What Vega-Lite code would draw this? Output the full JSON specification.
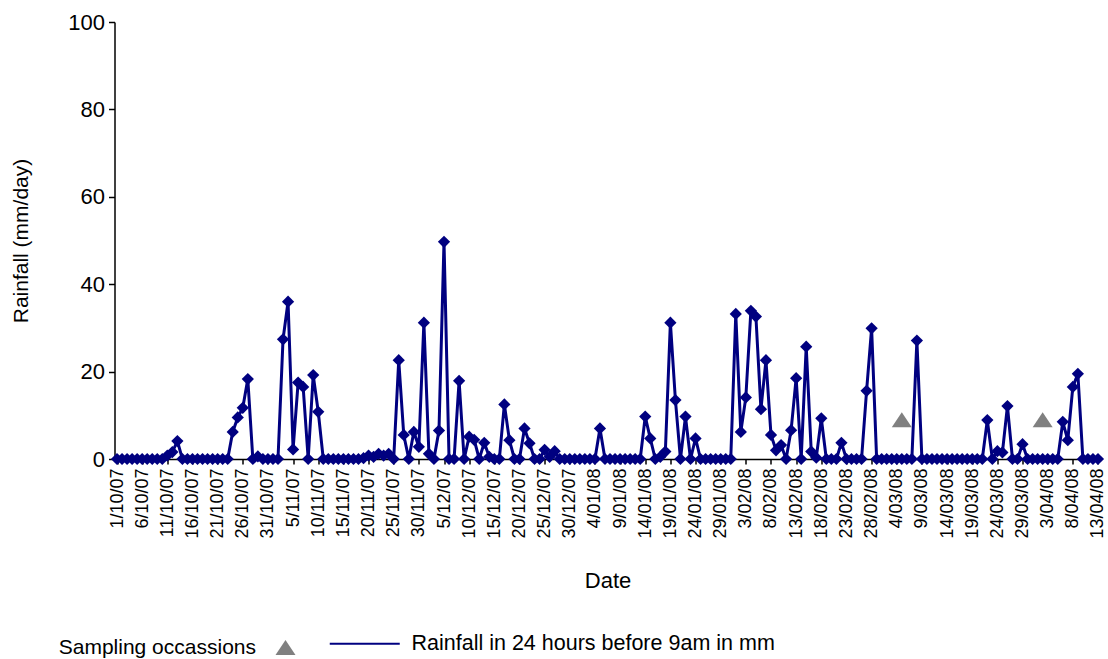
{
  "$schema": "https://vega.github.io/schema/vega-lite/v6.json",
  "width": 986,
  "height": 437,
  "autosize": "none",
  "padding": {"left": 114.5, "top": 22, "right": 7.5, "bottom": 200},
  "background": "white",
  "config": {
    "view": {"stroke": null},
    "font": "Liberation Sans",
    "axis": {
      "grid": false,
      "domainColor": "#000000",
      "domainWidth": 1.5,
      "tickColor": "#000000",
      "tickWidth": 1.5,
      "labelColor": "#000000",
      "titleColor": "#000000",
      "titleFontWeight": "normal",
      "labelFont": "Liberation Sans",
      "titleFont": "Liberation Sans"
    },
    "legend": {"labelFont": "Liberation Sans", "labelColor": "#000000", "labelLimit": 500}
  },
  "data": {
    "values": [
      {"date": "1/10/07", "rain": 0}, {"date": "2/10/07", "rain": 0}, {"date": "3/10/07", "rain": 0}, {"date": "4/10/07", "rain": 0},
      {"date": "5/10/07", "rain": 0}, {"date": "6/10/07", "rain": 0}, {"date": "7/10/07", "rain": 0}, {"date": "8/10/07", "rain": 0},
      {"date": "9/10/07", "rain": 0}, {"date": "10/10/07", "rain": 0}, {"date": "11/10/07", "rain": 0.8}, {"date": "12/10/07", "rain": 1.6},
      {"date": "13/10/07", "rain": 4.1}, {"date": "14/10/07", "rain": 0}, {"date": "15/10/07", "rain": 0}, {"date": "16/10/07", "rain": 0},
      {"date": "17/10/07", "rain": 0}, {"date": "18/10/07", "rain": 0}, {"date": "19/10/07", "rain": 0}, {"date": "20/10/07", "rain": 0},
      {"date": "21/10/07", "rain": 0}, {"date": "22/10/07", "rain": 0}, {"date": "23/10/07", "rain": 0}, {"date": "24/10/07", "rain": 6.2},
      {"date": "25/10/07", "rain": 9.5}, {"date": "26/10/07", "rain": 11.7}, {"date": "27/10/07", "rain": 18.3}, {"date": "28/10/07", "rain": 0},
      {"date": "29/10/07", "rain": 0.6}, {"date": "30/10/07", "rain": 0}, {"date": "31/10/07", "rain": 0},
      {"date": "1/11/07", "rain": 0}, {"date": "2/11/07", "rain": 0}, {"date": "3/11/07", "rain": 27.4}, {"date": "4/11/07", "rain": 36},
      {"date": "5/11/07", "rain": 2.2}, {"date": "6/11/07", "rain": 17.5}, {"date": "7/11/07", "rain": 16.5}, {"date": "8/11/07", "rain": 0},
      {"date": "9/11/07", "rain": 19.2}, {"date": "10/11/07", "rain": 10.8}, {"date": "11/11/07", "rain": 0}, {"date": "12/11/07", "rain": 0},
      {"date": "13/11/07", "rain": 0}, {"date": "14/11/07", "rain": 0}, {"date": "15/11/07", "rain": 0}, {"date": "16/11/07", "rain": 0},
      {"date": "17/11/07", "rain": 0}, {"date": "18/11/07", "rain": 0}, {"date": "19/11/07", "rain": 0.2}, {"date": "20/11/07", "rain": 0.8},
      {"date": "21/11/07", "rain": 0.5}, {"date": "22/11/07", "rain": 1.2}, {"date": "23/11/07", "rain": 0.8}, {"date": "24/11/07", "rain": 1.2},
      {"date": "25/11/07", "rain": 0}, {"date": "26/11/07", "rain": 22.6}, {"date": "27/11/07", "rain": 5.5}, {"date": "28/11/07", "rain": 0},
      {"date": "29/11/07", "rain": 6.2}, {"date": "30/11/07", "rain": 2.8},
      {"date": "1/12/07", "rain": 31.2}, {"date": "2/12/07", "rain": 1.2}, {"date": "3/12/07", "rain": 0}, {"date": "4/12/07", "rain": 6.5},
      {"date": "5/12/07", "rain": 49.7}, {"date": "6/12/07", "rain": 0}, {"date": "7/12/07", "rain": 0}, {"date": "8/12/07", "rain": 17.9},
      {"date": "9/12/07", "rain": 0}, {"date": "10/12/07", "rain": 5.1}, {"date": "11/12/07", "rain": 4.4}, {"date": "12/12/07", "rain": 0},
      {"date": "13/12/07", "rain": 3.7}, {"date": "14/12/07", "rain": 0.5}, {"date": "15/12/07", "rain": 0}, {"date": "16/12/07", "rain": 0},
      {"date": "17/12/07", "rain": 12.5}, {"date": "18/12/07", "rain": 4.3}, {"date": "19/12/07", "rain": 0}, {"date": "20/12/07", "rain": 0},
      {"date": "21/12/07", "rain": 7.0}, {"date": "22/12/07", "rain": 3.6}, {"date": "23/12/07", "rain": 0}, {"date": "24/12/07", "rain": 0},
      {"date": "25/12/07", "rain": 2.1}, {"date": "26/12/07", "rain": 0.5}, {"date": "27/12/07", "rain": 1.8}, {"date": "28/12/07", "rain": 0},
      {"date": "29/12/07", "rain": 0}, {"date": "30/12/07", "rain": 0}, {"date": "31/12/07", "rain": 0},
      {"date": "1/01/08", "rain": 0}, {"date": "2/01/08", "rain": 0}, {"date": "3/01/08", "rain": 0}, {"date": "4/01/08", "rain": 0},
      {"date": "5/01/08", "rain": 7.0}, {"date": "6/01/08", "rain": 0}, {"date": "7/01/08", "rain": 0}, {"date": "8/01/08", "rain": 0},
      {"date": "9/01/08", "rain": 0}, {"date": "10/01/08", "rain": 0}, {"date": "11/01/08", "rain": 0}, {"date": "12/01/08", "rain": 0},
      {"date": "13/01/08", "rain": 0}, {"date": "14/01/08", "rain": 9.7}, {"date": "15/01/08", "rain": 4.7}, {"date": "16/01/08", "rain": 0},
      {"date": "17/01/08", "rain": 0.5}, {"date": "18/01/08", "rain": 1.7}, {"date": "19/01/08", "rain": 31.2}, {"date": "20/01/08", "rain": 13.5},
      {"date": "21/01/08", "rain": 0}, {"date": "22/01/08", "rain": 9.7}, {"date": "23/01/08", "rain": 0}, {"date": "24/01/08", "rain": 4.7},
      {"date": "25/01/08", "rain": 0}, {"date": "26/01/08", "rain": 0}, {"date": "27/01/08", "rain": 0}, {"date": "28/01/08", "rain": 0},
      {"date": "29/01/08", "rain": 0}, {"date": "30/01/08", "rain": 0}, {"date": "31/01/08", "rain": 0},
      {"date": "1/02/08", "rain": 33.2}, {"date": "2/02/08", "rain": 6.2}, {"date": "3/02/08", "rain": 14.1}, {"date": "4/02/08", "rain": 33.9},
      {"date": "5/02/08", "rain": 32.6}, {"date": "6/02/08", "rain": 11.4}, {"date": "7/02/08", "rain": 22.6}, {"date": "8/02/08", "rain": 5.5},
      {"date": "9/02/08", "rain": 2.0}, {"date": "10/02/08", "rain": 3.2}, {"date": "11/02/08", "rain": 0}, {"date": "12/02/08", "rain": 6.6},
      {"date": "13/02/08", "rain": 18.5}, {"date": "14/02/08", "rain": 0}, {"date": "15/02/08", "rain": 25.7}, {"date": "16/02/08", "rain": 1.7},
      {"date": "17/02/08", "rain": 0.3}, {"date": "18/02/08", "rain": 9.3}, {"date": "19/02/08", "rain": 0}, {"date": "20/02/08", "rain": 0},
      {"date": "21/02/08", "rain": 0}, {"date": "22/02/08", "rain": 3.7}, {"date": "23/02/08", "rain": 0}, {"date": "24/02/08", "rain": 0},
      {"date": "25/02/08", "rain": 0}, {"date": "26/02/08", "rain": 0}, {"date": "27/02/08", "rain": 15.6}, {"date": "28/02/08", "rain": 29.9},
      {"date": "29/02/08", "rain": 0},
      {"date": "1/03/08", "rain": 0}, {"date": "2/03/08", "rain": 0}, {"date": "3/03/08", "rain": 0}, {"date": "4/03/08", "rain": 0},
      {"date": "5/03/08", "rain": 0, "sample": 9}, {"date": "6/03/08", "rain": 0}, {"date": "7/03/08", "rain": 0}, {"date": "8/03/08", "rain": 27.1},
      {"date": "9/03/08", "rain": 0}, {"date": "10/03/08", "rain": 0}, {"date": "11/03/08", "rain": 0}, {"date": "12/03/08", "rain": 0},
      {"date": "13/03/08", "rain": 0}, {"date": "14/03/08", "rain": 0}, {"date": "15/03/08", "rain": 0}, {"date": "16/03/08", "rain": 0},
      {"date": "17/03/08", "rain": 0}, {"date": "18/03/08", "rain": 0}, {"date": "19/03/08", "rain": 0}, {"date": "20/03/08", "rain": 0},
      {"date": "21/03/08", "rain": 0}, {"date": "22/03/08", "rain": 8.9}, {"date": "23/03/08", "rain": 0}, {"date": "24/03/08", "rain": 1.8},
      {"date": "25/03/08", "rain": 1.5}, {"date": "26/03/08", "rain": 12.1}, {"date": "27/03/08", "rain": 0}, {"date": "28/03/08", "rain": 0},
      {"date": "29/03/08", "rain": 3.4}, {"date": "30/03/08", "rain": 0}, {"date": "31/03/08", "rain": 0},
      {"date": "1/04/08", "rain": 0}, {"date": "2/04/08", "rain": 0, "sample": 9}, {"date": "3/04/08", "rain": 0}, {"date": "4/04/08", "rain": 0},
      {"date": "5/04/08", "rain": 0}, {"date": "6/04/08", "rain": 8.5}, {"date": "7/04/08", "rain": 4.3}, {"date": "8/04/08", "rain": 16.5},
      {"date": "9/04/08", "rain": 19.5}, {"date": "10/04/08", "rain": 0}, {"date": "11/04/08", "rain": 0}, {"date": "12/04/08", "rain": 0},
      {"date": "13/04/08", "rain": 0}
    ]
  },
  "encoding": {
    "x": {
      "field": "date",
      "type": "ordinal",
      "sort": null,
      "scale": {"type": "point", "padding": 0.5},
      "axis": {
        "title": "Date",
        "titleFontSize": 22,
        "titlePadding": 32,
        "labelFontSize": 18,
        "labelAngle": -90,
        "labelPadding": 4,
        "tickSize": 5,
        "values": ["1/10/07", "6/10/07", "11/10/07", "16/10/07", "21/10/07", "26/10/07", "31/10/07", "5/11/07", "10/11/07", "15/11/07", "20/11/07", "25/11/07", "30/11/07", "5/12/07", "10/12/07", "15/12/07", "20/12/07", "25/12/07", "30/12/07", "4/01/08", "9/01/08", "14/01/08", "19/01/08", "24/01/08", "29/01/08", "3/02/08", "8/02/08", "13/02/08", "18/02/08", "23/02/08", "28/02/08", "4/03/08", "9/03/08", "14/03/08", "19/03/08", "24/03/08", "29/03/08", "3/04/08", "8/04/08", "13/04/08"]
      }
    }
  },
  "layer": [
    {
      "mark": {"type": "line", "strokeWidth": 3, "interpolate": "linear"},
      "encoding": {
        "y": {
          "field": "rain",
          "type": "quantitative",
          "scale": {"domain": [0, 100], "nice": false, "zero": true},
          "axis": {"title": "Rainfall (mm/day)", "titleFontSize": 21, "titlePadding": 36, "labelFontSize": 22, "labelPadding": 4, "tickSize": 6, "values": [0, 20, 40, 60, 80, 100]}
        },
        "color": {
          "datum": "Rainfall in 24 hours before 9am in mm",
          "scale": {"range": ["#000080"]},
          "legend": {
            "title": null,
            "orient": "none",
            "legendX": 239.5,
            "legendY": 611,
            "padding": 0,
            "symbolType": "M-7,0L7,0",
            "symbolSize": 100,
            "symbolStrokeWidth": 2,
            "symbolStrokeColor": "#000080",
            "labelFontSize": 21.5,
            "labelOffset": 36
          }
        }
      }
    },
    {
      "mark": {"type": "point", "shape": "diamond", "filled": true, "size": 150, "color": "#000080", "opacity": 1},
      "encoding": {
        "y": {
          "field": "rain",
          "type": "quantitative",
          "axis": {"title": "Rainfall (mm/day)", "titleFontSize": 21, "titlePadding": 36, "labelFontSize": 22, "labelPadding": 4, "tickSize": 6, "values": [0, 20, 40, 60, 80, 100]}
        }
      }
    },
    {
      "mark": {"type": "point", "filled": true, "size": 400, "color": "#808080", "opacity": 1},
      "encoding": {
        "y": {
          "field": "sample",
          "type": "quantitative",
          "axis": {"title": "Rainfall (mm/day)", "titleFontSize": 21, "titlePadding": 36, "labelFontSize": 22, "labelPadding": 4, "tickSize": 6, "values": [0, 20, 40, 60, 80, 100]}
        },
        "shape": {
          "datum": "Sampling occassions",
          "scale": {"range": ["M0,-0.75L-1,0.75L1,0.75Z"]},
          "legend": {
            "title": null,
            "orient": "none",
            "legendX": 160.5,
            "legendY": 615,
            "padding": 0,
            "symbolSize": 400,
            "symbolFillColor": "#808080",
            "symbolStrokeColor": "#808080",
            "symbolStrokeWidth": 0,
            "labelFontSize": 21,
            "labelAlign": "right",
            "labelOffset": -40
          }
        }
      }
    }
  ]
}
